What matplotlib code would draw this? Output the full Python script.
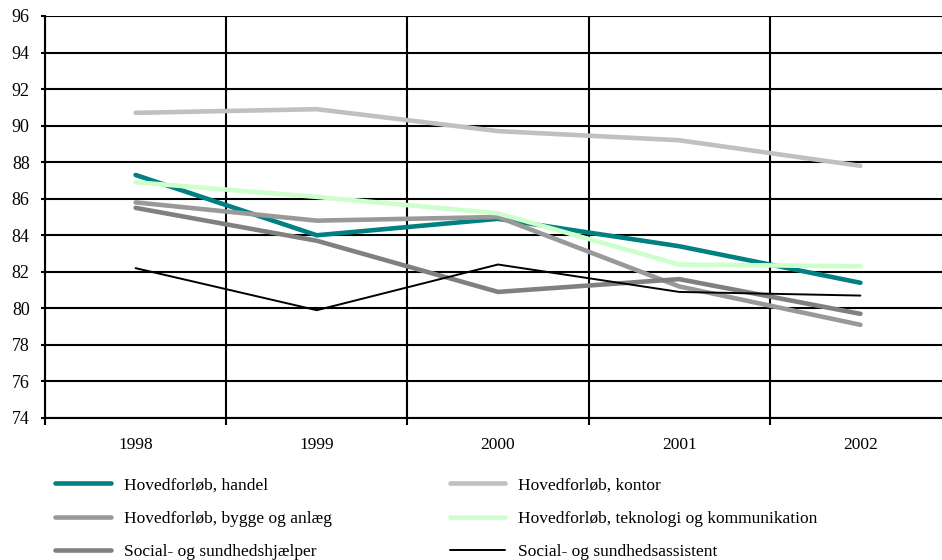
import matplotlib
matplotlib.use("Agg")
import matplotlib.pyplot as plt
import numpy as np

plt.rcParams['font.family'] = ['Liberation Serif', 'DejaVu Serif']

years = ['1998', '1999', '2000', '2001', '2002']

handel = [87.3, 84.0, 84.9, 83.4, 81.4]
kontor = [90.7, 90.9, 89.7, 89.2, 87.8]
bygge = [85.8, 84.8, 85.0, 81.2, 79.1]
teknologi = [86.9, 86.1, 85.2, 82.4, 82.3]
hjaelper = [85.5, 83.7, 80.9, 81.6, 79.7]
assistent = [82.2, 79.9, 82.4, 80.9, 80.7]

series = [
    ("Hovedforløb, handel", handel, '#008080', 3.3),
    ("Hovedforløb, kontor", kontor, '#C0C0C0', 3.3),
    ("Hovedforløb, bygge og anlæg", bygge, '#999999', 3.3),
    ("Hovedforløb, teknologi og kommunikation", teknologi, '#CCFFCC', 3.3),
    ("Social- og sundhedshjælper", hjaelper, '#808080', 3.3),
    ("Social- og sundhedsassistent", assistent, '#000000', 1.4),
]

fig = plt.figure(figsize=(9.42, 5.6), dpi=100)
ax = fig.add_axes([45 / 942, 1 - 418 / 560, 906 / 942, 402 / 560])

x = np.arange(len(years))
handles = []
for label, vals, color, lw in series:
    h, = ax.plot(x, vals, color=color, lw=lw, label=label, solid_capstyle='round', zorder=3)
    handles.append(h)

ax.set_xlim(-0.5, len(years) - 0.5)
ax.set_ylim(74, 96)
ax.set_yticks(np.arange(74, 97, 2))
ax.set_xticks(x)
ax.set_xticklabels(years)
ax.set_xticks(np.arange(-0.5, len(years), 1), minor=True)

ax.grid(True, axis='y', which='major', color='black', lw=1.5)
ax.grid(True, axis='x', which='minor', color='black', lw=1.5)
ax.set_axisbelow(True)

for s in ['top', 'right']:
    ax.spines[s].set_visible(False)
for s in ['left', 'bottom']:
    ax.spines[s].set_linewidth(1.5)

ax.tick_params(axis='x', which='major', length=0, pad=14, labelsize=12.5)
ax.tick_params(axis='x', which='minor', length=5, width=1.5, direction='out')
ax.tick_params(axis='y', length=3, width=1.5, pad=8, labelsize=13)

order = [0, 2, 4, 1, 3, 5]
fig.legend([handles[i] for i in order], [series[i][0] for i in order],
           ncol=2, loc='upper left', bbox_to_anchor=(55 / 942, 1 - 477 / 560),
           frameon=False, fontsize=12.5, handlelength=3.2, handletextpad=0.75,
           columnspacing=6.8, labelspacing=1.0, borderaxespad=0, borderpad=0)

fig.savefig('out.png', dpi=100)
